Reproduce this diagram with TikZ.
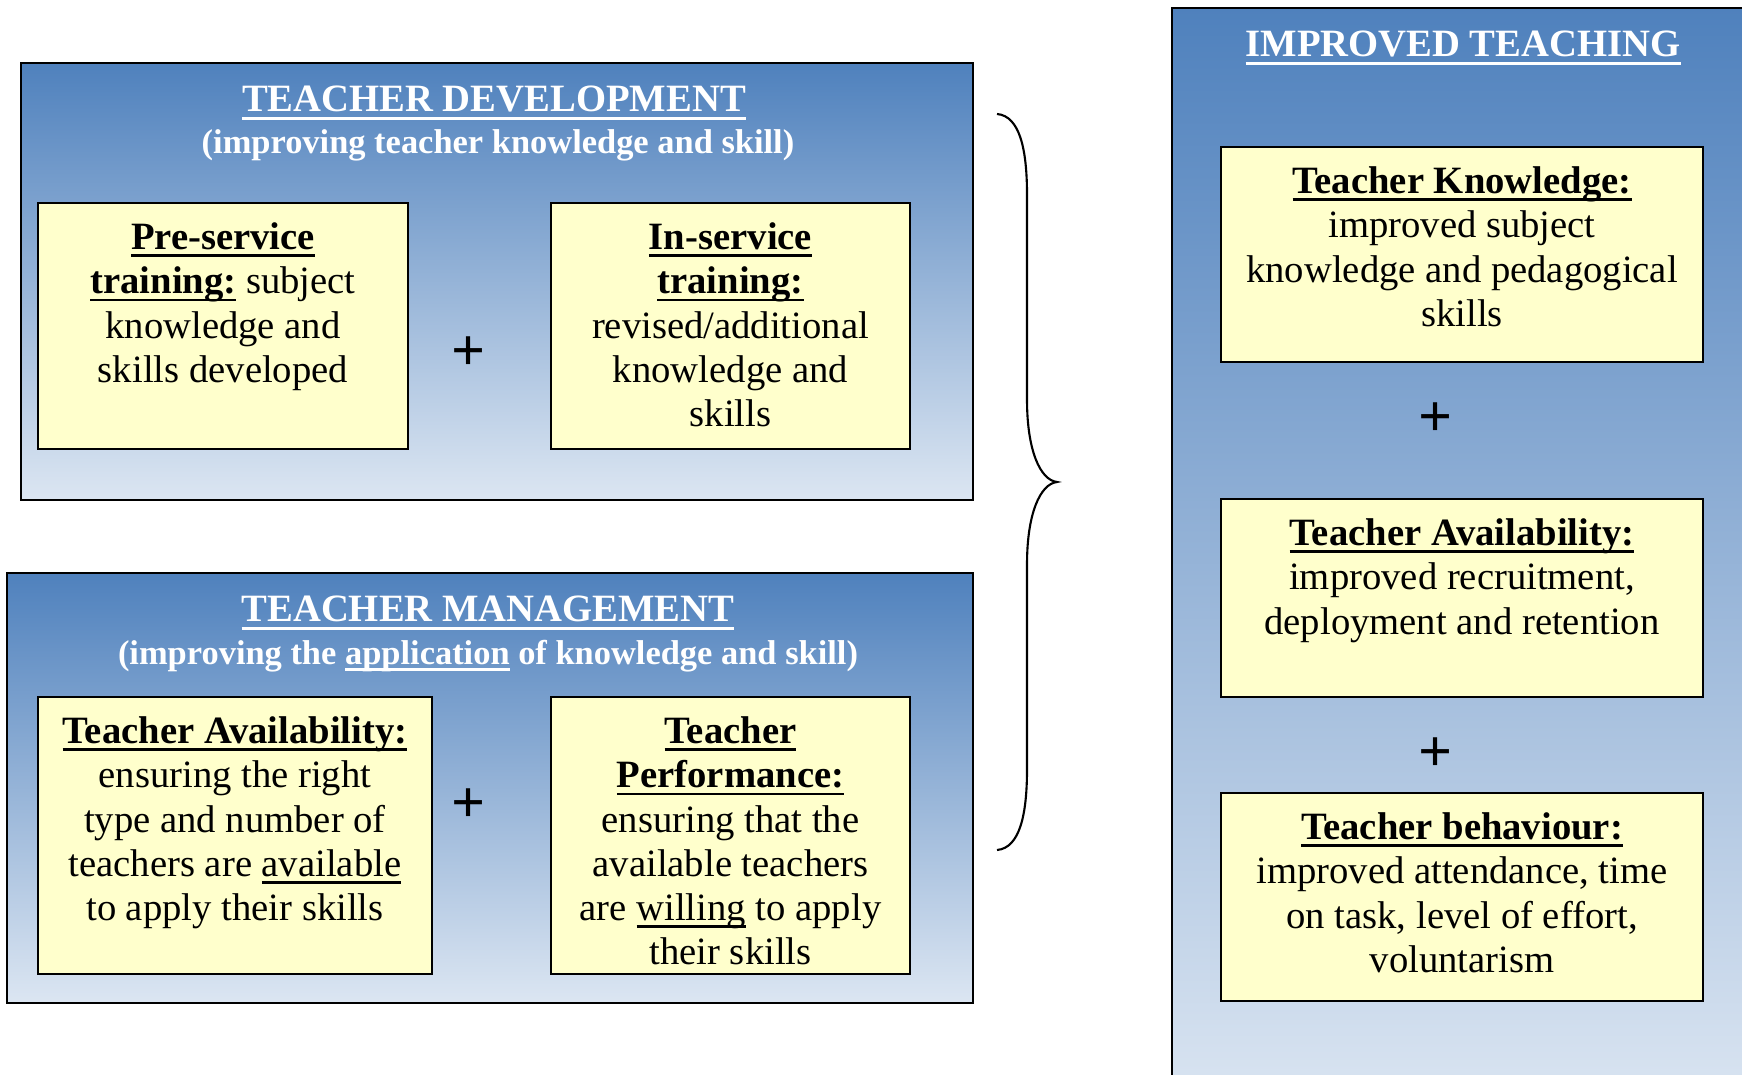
\documentclass[tikz,border=0pt]{standalone}
\usepackage{fontspec}
\setmainfont{Liberation Serif}
\usetikzlibrary{positioning}
\definecolor{hdrblue}{RGB}{79,129,189}
\definecolor{paleblue}{RGB}{220,230,242}
\definecolor{cardyellow}{RGB}{255,255,204}
% thick underline that keeps the text colour
\newcommand{\undl}[1]{\setbox0=\hbox{#1}\rlap{\rule[-0.2em]{\wd0}{0.075em}}\box0\relax}

\begin{document}
\begin{tikzpicture}[
  panel/.style={draw, line width=0.6pt, top color=hdrblue, bottom color=paleblue,
                anchor=north west, inner sep=0pt},
  card/.style={draw, line width=0.6pt, fill=cardyellow, inner sep=0pt},
  cardtext/.style={align=center, inner sep=0pt, font=\fontsize{11}{12.6}\selectfont},
  heading/.style={text=white, inner sep=0pt, font=\fontsize{11}{13}\selectfont\bfseries},
  subheading/.style={text=white, inner sep=0pt, font=\fontsize{9.8}{12}\selectfont\bfseries},
  plus/.style={inner sep=0pt, font=\fontsize{17}{17}\selectfont\bfseries}
]
  \useasboundingbox (0,0) rectangle (17.42,-10.75);
  \clip (0,0) rectangle (17.42,-10.75);

  % Teacher development
  \node[panel, minimum width=9.52cm, minimum height=4.37cm] (dev) at (0.20,-0.62) {};
  \node[heading, anchor=base] (devtitle) at (4.94,-1.12) {\undl{TEACHER DEVELOPMENT}};
  \node[subheading, anchor=base] (devsub) at (4.98,-1.54) {(improving teacher knowledge and skill)};
  \node[card, minimum width=3.70cm, minimum height=2.46cm] (pre) at (2.23,-3.26) {};
  \node[cardtext, below=0.2cm of pre.north] (pretext)
    {\textbf{\undl{Pre-service}}\\ \textbf{\undl{training:}} subject\\ knowledge and\\ skills developed};
  \node[card, minimum width=3.59cm, minimum height=2.46cm] (ins) at (7.305,-3.26) {};
  \node[cardtext, below=0.2cm of ins.north] (instext)
    {\textbf{\undl{In-service}}\\ \textbf{\undl{training:}}\\ revised/additional\\ knowledge and\\ skills};
  \node[plus] (plusdev) at (4.69,-3.54) {+};

  % Teacher management
  \node[panel, minimum width=9.66cm, minimum height=4.30cm] (mgmt) at (0.06,-5.72) {};
  \node[heading, anchor=base] (mgmttitle) at (4.88,-6.22) {\undl{TEACHER MANAGEMENT}};
  \node[subheading, anchor=base] (mgmtsub) at (4.88,-6.64)
    {(improving the \undl{application} of knowledge and skill)};
  \node[card, minimum width=3.94cm, minimum height=2.77cm] (avl) at (2.35,-8.355) {};
  \node[cardtext, below=0.2cm of avl.north] (avltext)
    {\textbf{\undl{Teacher Availability:}}\\ ensuring the right\\ type and number of\\
     teachers are \undl{available}\\ to apply their skills};
  \node[card, minimum width=3.59cm, minimum height=2.77cm] (perf) at (7.305,-8.355) {};
  \node[cardtext, below=0.2cm of perf.north] (perftext)
    {\textbf{\undl{Teacher}}\\ \textbf{\undl{Performance:}}\\ ensuring that the\\
     available teachers\\ are \undl{willing} to apply\\ their skills};
  \node[plus] (plusmgmt) at (4.69,-8.06) {+};

  % brace joining both panels
  \draw[line width=0.6pt] (9.97,-1.14)
    .. controls (10.20,-1.16) and (10.27,-1.50) .. (10.27,-1.95) -- (10.27,-4.00)
    .. controls (10.27,-4.50) and (10.40,-4.80) .. (10.57,-4.82)
    .. controls (10.40,-4.84) and (10.27,-5.14) .. (10.27,-5.64) -- (10.27,-7.69)
    .. controls (10.27,-8.14) and (10.20,-8.48) .. (9.97,-8.50);

  % Improved teaching
  \node[panel, minimum width=6.2cm, minimum height=11.1cm] (impr) at (11.71,-0.07) {};
  \node[heading, anchor=base] (imprtitle) at (14.63,-0.57) {\undl{IMPROVED TEACHING}};
  \node[card, minimum width=4.82cm, minimum height=2.15cm] (know) at (14.62,-2.545) {};
  \node[cardtext, below=0.2cm of know.north] (knowtext)
    {\textbf{\undl{Teacher Knowledge:}}\\ improved subject\\ knowledge and pedagogical\\ skills};
  \node[plus] (plusknow) at (14.35,-4.20) {+};
  \node[card, minimum width=4.82cm, minimum height=1.98cm] (recr) at (14.62,-5.98) {};
  \node[cardtext, below=0.2cm of recr.north] (recrtext)
    {\textbf{\undl{Teacher Availability:}}\\ improved recruitment,\\ deployment and retention};
  \node[plus] (plusrecr) at (14.35,-7.55) {+};
  \node[card, minimum width=4.82cm, minimum height=2.08cm] (behav) at (14.62,-8.97) {};
  \node[cardtext, below=0.2cm of behav.north] (behavtext)
    {\textbf{\undl{Teacher behaviour:}}\\ improved attendance, time\\ on task, level of effort,\\ voluntarism};
\end{tikzpicture}
\end{document}
